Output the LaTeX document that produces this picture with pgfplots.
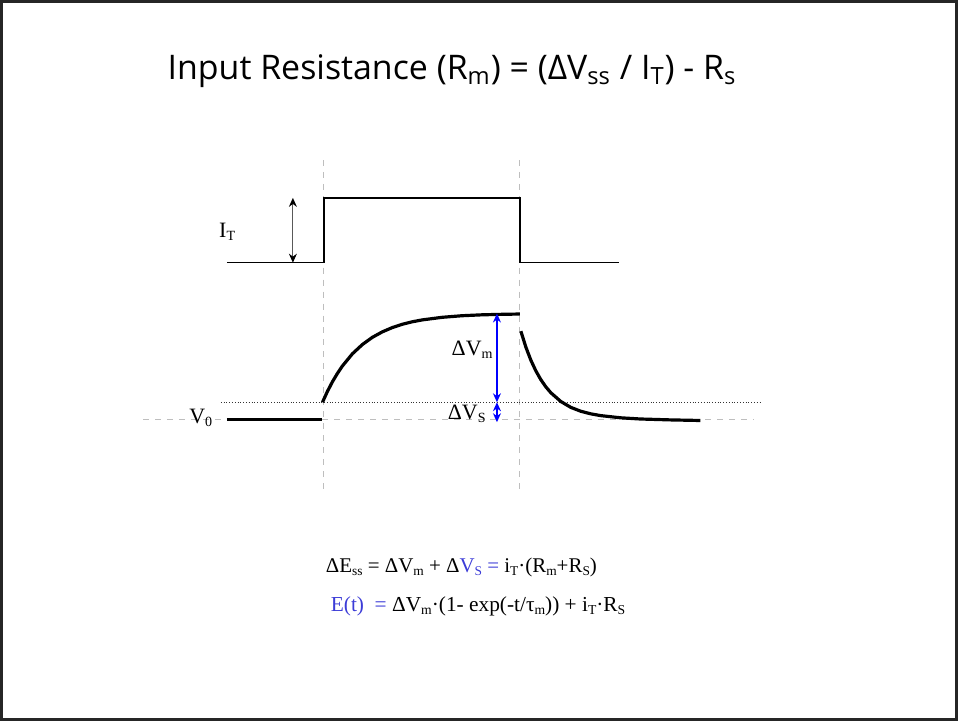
\documentclass[border=0pt]{standalone}
\usepackage{pgfplots}
\pgfplotsset{compat=1.18}
\usetikzlibrary{arrows.meta}
\usepackage{fontspec}
\setmainfont{Liberation Serif}
\newfontfamily\titlefont{Open Sans}
\definecolor{eqblue}{RGB}{60,60,215}
\definecolor{dashgray}{RGB}{190,190,190}
\newcommand\sub[1]{\raisebox{-0.3ex}{\fontsize{0.64em}{0.64em}\selectfont #1}}
\begin{document}
\begin{tikzpicture}
\begin{axis}[
  width=479pt,height=360pt,scale only axis,
  xmin=0,xmax=958,ymin=0,ymax=720,y dir=reverse,
  axis line style={line width=1.5pt,black!85},
  ticks=none,clip=false]
% grey dashed guide lines
\addplot[dashgray,dashed,line width=0.5pt] coordinates {(322.7,159) (322.7,490)};
\addplot[dashgray,dashed,line width=0.5pt] coordinates {(519.3,159) (519.3,490)};
\addplot[dashgray,dashed,line width=0.5pt] coordinates {(142,419) (755,419)};
\addplot[black!80,densely dotted,line width=0.4pt] coordinates {(220,402) (763,402)};
% current trace
\addplot[black,line width=0.7pt] coordinates {(226,262) (323.5,262) (323.5,197.3) (520,197.3) (520,262) (619,262)};
% I_T arrow
\addplot[black!65,line width=0.6pt,{Stealth[black,length=4.5pt,width=4pt]}-{Stealth[black,length=4.5pt,width=4pt]}] coordinates {(292.3,197) (292.3,262)};
% voltage trace
\addplot[black,line width=1.6pt] coordinates {(226,419) (322,419)};
\addplot[black,line width=1.6pt] coordinates {
(322,402) (327,391.0) (332,381.4) (337,373.0) (342,365.6) (352,353.4) (362,344.1)
(372,336.9) (382,331.4) (392,327.1) (402,323.8) (412,321.3) (422,319.4) (442,316.8)
(462,315.2) (482,314.3) (502,313.8) (520,313.5)};
\addplot[black,line width=1.6pt] coordinates {
(521,330.7) (526,346.7) (531,359.8) (536,370.5) (541,379.3) (546,386.5) (551,392.4)
(561,401.2) (571,407.1) (581,411.0) (591,413.6) (601,415.4) (621,417.6) (641,418.8)
(671,419.7) (701,420.3)};
% blue arrows
\addplot[blue,line width=0.6pt,{Stealth[length=4.5pt,width=4pt]}-{Stealth[length=4.5pt,width=4pt]}] coordinates {(497,313) (497,402)};
\addplot[blue,line width=0.6pt,{Stealth[length=4.5pt,width=4pt]}-{Stealth[length=4.5pt,width=4pt]}] coordinates {(497,402) (497,422)};
% labels
\node[font=\fontsize{11}{12}\selectfont,inner sep=0pt,anchor=base west] at (axis cs:218,237) {I\sub{T}};
\node[font=\fontsize{11}{12}\selectfont,inner sep=0pt,anchor=base east] at (axis cs:493,355) {ΔV\sub{m}};
\node[font=\fontsize{11}{12}\selectfont,inner sep=0pt,anchor=base east] at (axis cs:486,419) {ΔV\sub{S}};
\node[font=\fontsize{11}{12}\selectfont,inner sep=0pt,anchor=base west] at (axis cs:188,423) {V\sub{0}};
% title
\node[font=\titlefont\fontsize{17}{20}\selectfont,inner sep=0pt] at (axis cs:452,70)
  {Input Resistance (R\textsubscript{m}) = (ΔV\textsubscript{ss} / I\textsubscript{T}) - R\textsubscript{s}};
% equations
\node[font=\fontsize{10.5}{12}\selectfont,inner sep=0pt,anchor=base west] at (axis cs:325,573)
  {ΔE\sub{ss} = ΔV\sub{m} + Δ{\color{eqblue}V\sub{S} =} i\sub{T}·(R\sub{m}+R\sub{S})};
\node[font=\fontsize{10.7}{12}\selectfont,inner sep=0pt,anchor=base west] at (axis cs:330,612)
  {{\color{eqblue}E(t) ~=} ΔV\sub{m}·(1- exp(-t/τ\sub{m})) + i\sub{T}·R\sub{S}};
\end{axis}
\end{tikzpicture}
\end{document}
